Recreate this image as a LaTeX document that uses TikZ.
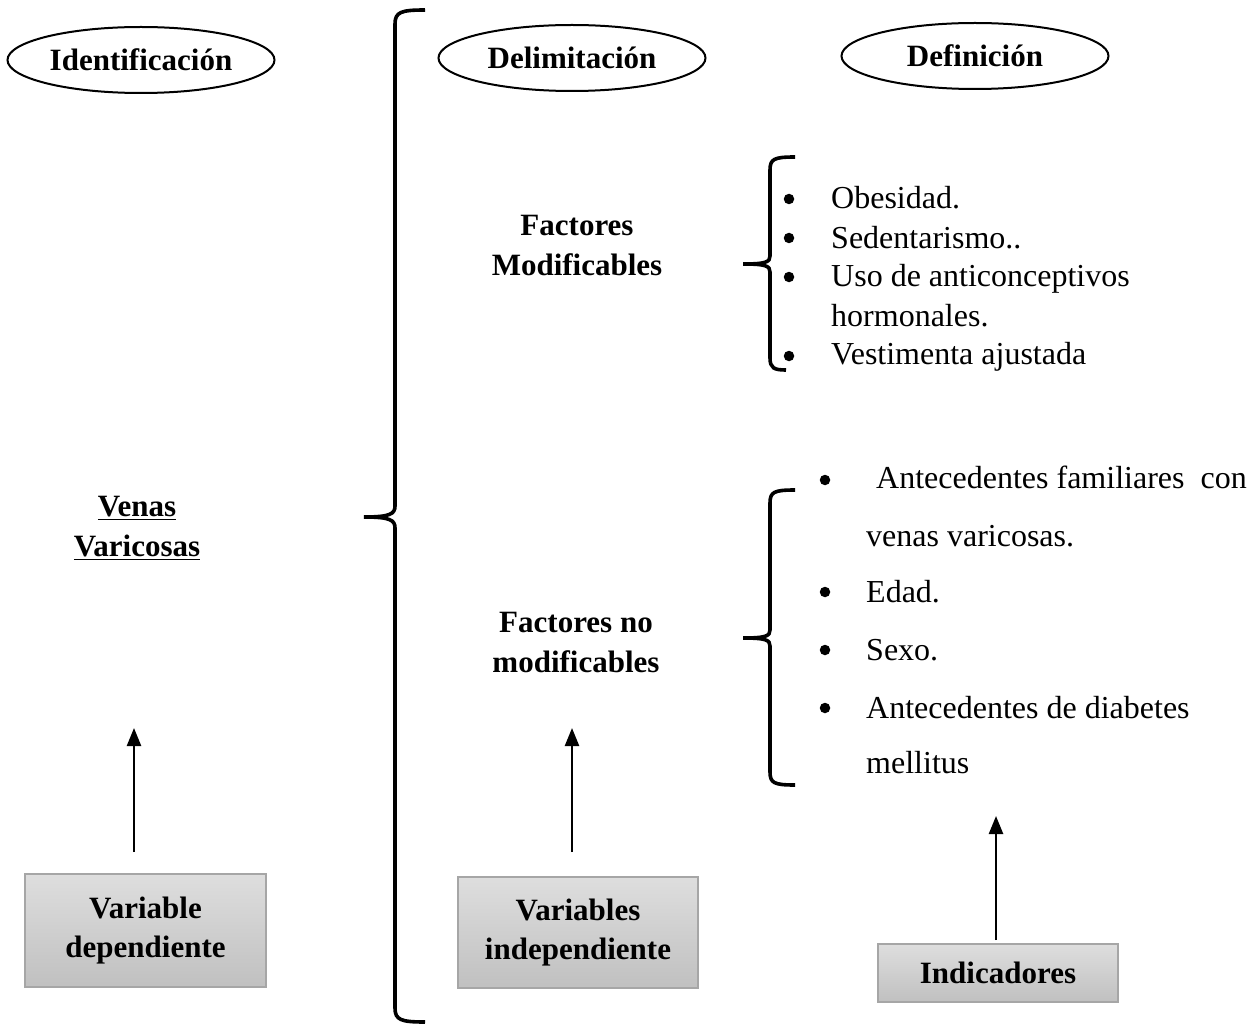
\documentclass[tikz,border=0pt]{standalone}
\usepackage{fontspec}
\setmainfont{Liberation Serif}
\usetikzlibrary{arrows.meta,shapes.geometric}
\definecolor{boxtop}{HTML}{DEDEDE}
\definecolor{boxbot}{HTML}{C0C0C0}
\definecolor{boxline}{HTML}{A6A6A6}
\begin{document}
\begin{tikzpicture}[x=1pt,y=-1pt,
  hdr/.style={ellipse, draw, line width=2pt, inner sep=0pt, minimum width=267pt, minimum height=66pt, font=\fontsize{31}{40}\selectfont\bfseries},
  gbox/.style={draw=boxline, line width=1.2pt, top color=boxtop, bottom color=boxbot, inner sep=0pt, font=\fontsize{31}{39}\selectfont\bfseries, align=center},
  lbl/.style={inner sep=0pt, font=\fontsize{31}{40}\selectfont\bfseries, align=center},
  item/.style={anchor=base west, inner sep=0pt, font=\fontsize{32}{40}\selectfont},
  dot/.style={circle, fill, inner sep=0pt, minimum size=10.5pt},
  up/.style={-{Triangle[width=14pt,length=18pt]}, line width=2.4pt},
  brace/.style={line width=3.6pt, line cap=butt}]
\useasboundingbox (0,0) rectangle (1252,1024);

% headers
\node[hdr] (h1) at (141,60) {Identificación};
\node[hdr] (h2) at (572,58) {Delimitación};
\node[hdr] (h3) at (975,56) {Definición};

% main labels
\node[lbl] (vv) at (137,528) {\underline{Venas}\\\underline{Varicosas}};
\node[lbl] (fm) at (577,246) {Factores\\Modificables};
\node[lbl] (fn) at (576,642) {Factores no\\modificables};

% gray boxes
\node[gbox, minimum width=241pt, minimum height=113pt] (b1) at (145.5,930.5) {Variable\\dependiente};
\node[gbox, minimum width=240pt, minimum height=111pt] (b2) at (578,932.5) {Variables\\independiente};
\node[gbox, minimum width=240pt, minimum height=58pt] (b3) at (998,973) {Indicadores};

% arrows
\coordinate (a1s) at (134,852); \coordinate (a1e) at (134,728);
\coordinate (a2s) at (572,852); \coordinate (a2e) at (572,728);
\coordinate (a3s) at (996,940); \coordinate (a3e) at (996,816);
\draw[up] (a1s) -- (a1e);
\draw[up] (a2s) -- (a2e);
\draw[up] (a3s) -- (a3e);

% big brace
\draw[brace] (425,10) .. controls (401,10) and (395,12) .. (395,24) -- (395,506)
  .. controls (395,514) and (390,517) .. (364,517)
  .. controls (390,517) and (395,520) .. (395,528) -- (395,1008)
  .. controls (395,1020) and (401,1022) .. (425,1022);

% upper small brace
\draw[brace] (795,157) .. controls (774,157) and (770,159) .. (770,170) -- (770,256)
  .. controls (770,262) and (766,264) .. (743,264)
  .. controls (766,264) and (770,266) .. (770,272) -- (770,358)
  .. controls (770,368) and (774,370) .. (786,370);

% lower small brace
\draw[brace] (795,490) .. controls (774,490) and (770,492) .. (770,503) -- (770,630)
  .. controls (770,636) and (766,638) .. (743,638)
  .. controls (766,638) and (770,640) .. (770,646) -- (770,772)
  .. controls (770,783) and (774,785) .. (795,785);

% upper list
\node[dot] (u1) at (789,199) {};
\node[dot] (u2) at (789,238) {};
\node[dot] (u3) at (789,277) {};
\node[dot] (u4) at (789,356) {};
\node[item] (t1) at (831,209) {Obesidad.};
\node[item] (t2) at (831,248) {Sedentarismo..};
\node[item] (t3) at (831,287) {Uso de anticonceptivos};
\node[item] (t4) at (831,326) {hormonales.};
\node[item] (t5) at (831,364) {Vestimenta ajustada};

% lower list
\node[dot] (l1) at (825,480) {};
\node[dot] (l2) at (825,592) {};
\node[dot] (l3) at (825,650) {};
\node[dot] (l4) at (825,708) {};
\node[item] (s1) at (876,488) {Antecedentes familiares\ \ con};
\node[item] (s2) at (866,546) {venas varicosas.};
\node[item] (s3) at (866,602) {Edad.};
\node[item] (s4) at (866,660) {Sexo.};
\node[item] (s5) at (866,718) {Antecedentes de diabetes};
\node[item] (s6) at (866,773) {mellitus};
\end{tikzpicture}
\end{document}
